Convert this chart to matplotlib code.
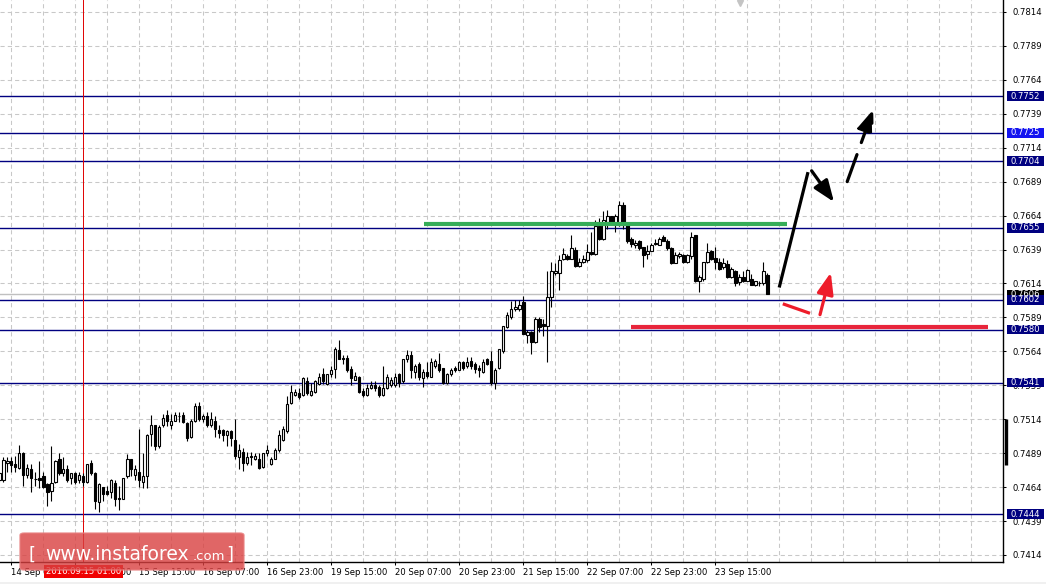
import matplotlib
matplotlib.use("Agg")
import matplotlib.pyplot as plt
import matplotlib.transforms as mtransforms
from matplotlib.patches import Rectangle, FancyBboxPatch
import numpy as np

# H1 candles, AUD/USD style chart, 193 bars
opens = [
    0.7469, 0.7469, 0.7482, 0.7483, 0.7481, 0.7478, 0.7489, 0.7473, 0.7477, 0.7470,
    0.7471, 0.7472, 0.7466, 0.7461, 0.7468, 0.7485, 0.7474, 0.7477, 0.7471, 0.7474,
    0.7469, 0.7472, 0.7468, 0.7482, 0.7474, 0.7453, 0.7464, 0.7461, 0.7460, 0.7467,
    0.7456, 0.7455, 0.7472, 0.7485, 0.7473, 0.7475, 0.7468, 0.7472, 0.7503, 0.7510,
    0.7494, 0.7510, 0.7517, 0.7510, 0.7513, 0.7516, 0.7517, 0.7511, 0.7501, 0.7513,
    0.7524, 0.7514, 0.7516, 0.7510, 0.7513, 0.7506, 0.7506, 0.7502, 0.7505, 0.7499,
    0.7486, 0.7490, 0.7482, 0.7487, 0.7485, 0.7485, 0.7479, 0.7489, 0.7481, 0.7485,
    0.7491, 0.7499, 0.7505, 0.7526, 0.7532, 0.7533, 0.7532, 0.7542, 0.7532, 0.7534,
    0.7540, 0.7547, 0.7540, 0.7547, 0.7551, 0.7565, 0.7559, 0.7559, 0.7551, 0.7543,
    0.7545, 0.7535, 0.7532, 0.7537, 0.7539, 0.7538, 0.7532, 0.7537, 0.7539, 0.7539,
    0.7547, 0.7542, 0.7558, 0.7561, 0.7549, 0.7555, 0.7544, 0.7549, 0.7545, 0.7553,
    0.7555, 0.7552, 0.7541, 0.7547, 0.7552, 0.7550, 0.7556, 0.7553, 0.7557, 0.7555,
    0.7552, 0.7549, 0.7558, 0.7557, 0.7541, 0.7552, 0.7564, 0.7582, 0.7589, 0.7595,
    0.7595, 0.7600, 0.7576, 0.7578, 0.7571, 0.7588, 0.7584, 0.7583, 0.7604, 0.7622,
    0.7622, 0.7632, 0.7634, 0.7632, 0.7639, 0.7627, 0.7630, 0.7631, 0.7637, 0.7636,
    0.7656, 0.7647, 0.7659, 0.7664, 0.7658, 0.7657, 0.7672, 0.7657, 0.7647, 0.7642,
    0.7645, 0.7641, 0.7636, 0.7638, 0.7644, 0.7642, 0.7648, 0.7645, 0.7640, 0.7629,
    0.7634, 0.7635, 0.7630, 0.7634, 0.7650, 0.7616, 0.7617, 0.7630, 0.7638, 0.7633,
    0.7630, 0.7626, 0.7628, 0.7619, 0.7623, 0.7615, 0.7619, 0.7616, 0.7617, 0.7613,
    0.7614, 0.7614, 0.7620,
]
highs = [
    0.7475, 0.7486, 0.7486, 0.7486, 0.7487, 0.7495, 0.7490, 0.7481, 0.7481, 0.7475,
    0.7483, 0.7475, 0.7467, 0.7494, 0.7484, 0.7489, 0.7486, 0.7480, 0.7474, 0.7475,
    0.7475, 0.7474, 0.7481, 0.7484, 0.7475, 0.7467, 0.7464, 0.7465, 0.7470, 0.7469,
    0.7465, 0.7471, 0.7488, 0.7485, 0.7480, 0.7507, 0.7489, 0.7503, 0.7517, 0.7510,
    0.7510, 0.7518, 0.7521, 0.7518, 0.7519, 0.7519, 0.7519, 0.7512, 0.7514, 0.7526,
    0.7527, 0.7518, 0.7519, 0.7519, 0.7516, 0.7510, 0.7507, 0.7506, 0.7506, 0.7514,
    0.7496, 0.7493, 0.7490, 0.7490, 0.7489, 0.7489, 0.7489, 0.7495, 0.7486, 0.7493,
    0.7506, 0.7509, 0.7531, 0.7539, 0.7536, 0.7537, 0.7545, 0.7545, 0.7541, 0.7543,
    0.7548, 0.7552, 0.7547, 0.7553, 0.7567, 0.7572, 0.7561, 0.7561, 0.7553, 0.7549,
    0.7546, 0.7537, 0.7540, 0.7542, 0.7542, 0.7539, 0.7553, 0.7547, 0.7545, 0.7548,
    0.7548, 0.7558, 0.7565, 0.7564, 0.7555, 0.7556, 0.7551, 0.7556, 0.7559, 0.7558,
    0.7563, 0.7552, 0.7548, 0.7552, 0.7553, 0.7557, 0.7557, 0.7560, 0.7560, 0.7556,
    0.7554, 0.7558, 0.7559, 0.7564, 0.7552, 0.7566, 0.7583, 0.7593, 0.7601, 0.7602,
    0.7602, 0.7605, 0.7580, 0.7579, 0.7589, 0.7589, 0.7588, 0.7623, 0.7630, 0.7629,
    0.7635, 0.7640, 0.7636, 0.7650, 0.7641, 0.7633, 0.7635, 0.7643, 0.7652, 0.7661,
    0.7662, 0.7667, 0.7668, 0.7664, 0.7665, 0.7675, 0.7674, 0.7657, 0.7648, 0.7646,
    0.7646, 0.7641, 0.7642, 0.7644, 0.7647, 0.7648, 0.7650, 0.7647, 0.7641, 0.7637,
    0.7637, 0.7636, 0.7636, 0.7652, 0.7650, 0.7620, 0.7630, 0.7644, 0.7639, 0.7641,
    0.7633, 0.7633, 0.7631, 0.7626, 0.7624, 0.7621, 0.7623, 0.7625, 0.7621, 0.7616,
    0.7616, 0.7630, 0.7622,
]
lows = [
    0.7468, 0.7468, 0.7475, 0.7475, 0.7475, 0.7477, 0.7465, 0.7471, 0.7460, 0.7465,
    0.7463, 0.7463, 0.7450, 0.7454, 0.7467, 0.7473, 0.7472, 0.7468, 0.7466, 0.7466,
    0.7467, 0.7465, 0.7467, 0.7473, 0.7448, 0.7446, 0.7454, 0.7458, 0.7456, 0.7450,
    0.7447, 0.7455, 0.7471, 0.7472, 0.7469, 0.7464, 0.7463, 0.7463, 0.7494, 0.7491,
    0.7493, 0.7508, 0.7509, 0.7507, 0.7513, 0.7512, 0.7511, 0.7498, 0.7500, 0.7512,
    0.7513, 0.7512, 0.7508, 0.7508, 0.7501, 0.7500, 0.7498, 0.7494, 0.7494, 0.7485,
    0.7477, 0.7476, 0.7480, 0.7480, 0.7484, 0.7477, 0.7478, 0.7487, 0.7480, 0.7485,
    0.7490, 0.7498, 0.7504, 0.7525, 0.7531, 0.7529, 0.7531, 0.7532, 0.7531, 0.7533,
    0.7539, 0.7540, 0.7539, 0.7545, 0.7544, 0.7558, 0.7555, 0.7549, 0.7539, 0.7543,
    0.7533, 0.7530, 0.7531, 0.7536, 0.7535, 0.7530, 0.7531, 0.7536, 0.7538, 0.7538,
    0.7538, 0.7541, 0.7556, 0.7544, 0.7544, 0.7543, 0.7538, 0.7544, 0.7545, 0.7552,
    0.7549, 0.7540, 0.7540, 0.7546, 0.7549, 0.7550, 0.7550, 0.7552, 0.7551, 0.7548,
    0.7545, 0.7548, 0.7554, 0.7539, 0.7536, 0.7551, 0.7563, 0.7581, 0.7588, 0.7594,
    0.7594, 0.7577, 0.7570, 0.7562, 0.7570, 0.7578, 0.7575, 0.7556, 0.7597, 0.7620,
    0.7609, 0.7631, 0.7631, 0.7632, 0.7626, 0.7626, 0.7629, 0.7630, 0.7635, 0.7635,
    0.7646, 0.7646, 0.7654, 0.7657, 0.7652, 0.7656, 0.7654, 0.7644, 0.7641, 0.7640,
    0.7639, 0.7626, 0.7632, 0.7638, 0.7642, 0.7642, 0.7645, 0.7639, 0.7628, 0.7629,
    0.7633, 0.7629, 0.7629, 0.7632, 0.7615, 0.7608, 0.7616, 0.7629, 0.7631, 0.7625,
    0.7624, 0.7625, 0.7618, 0.7618, 0.7612, 0.7613, 0.7615, 0.7616, 0.7613, 0.7612,
    0.7612, 0.7613, 0.7606,
]
closes = [
    0.7474, 0.7484, 0.7483, 0.7480, 0.7479, 0.7489, 0.7473, 0.7478, 0.7471, 0.7470,
    0.7469, 0.7464, 0.7460, 0.7467, 0.7483, 0.7474, 0.7477, 0.7469, 0.7474, 0.7468,
    0.7473, 0.7468, 0.7481, 0.7474, 0.7454, 0.7466, 0.7459, 0.7459, 0.7469, 0.7455,
    0.7455, 0.7471, 0.7485, 0.7477, 0.7477, 0.7469, 0.7472, 0.7502, 0.7510, 0.7494,
    0.7508, 0.7515, 0.7513, 0.7513, 0.7517, 0.7516, 0.7512, 0.7500, 0.7513, 0.7524,
    0.7514, 0.7516, 0.7510, 0.7514, 0.7507, 0.7504, 0.7502, 0.7505, 0.7500, 0.7487,
    0.7491, 0.7482, 0.7486, 0.7486, 0.7487, 0.7478, 0.7489, 0.7491, 0.7485, 0.7491,
    0.7502, 0.7507, 0.7525, 0.7534, 0.7534, 0.7530, 0.7544, 0.7533, 0.7535, 0.7542,
    0.7545, 0.7542, 0.7547, 0.7550, 0.7566, 0.7558, 0.7558, 0.7550, 0.7544, 0.7546,
    0.7534, 0.7532, 0.7537, 0.7539, 0.7537, 0.7532, 0.7537, 0.7545, 0.7543, 0.7545,
    0.7541, 0.7558, 0.7561, 0.7550, 0.7553, 0.7545, 0.7549, 0.7546, 0.7556, 0.7557,
    0.7550, 0.7541, 0.7547, 0.7550, 0.7550, 0.7556, 0.7552, 0.7556, 0.7553, 0.7551,
    0.7550, 0.7556, 0.7555, 0.7541, 0.7550, 0.7566, 0.7583, 0.7591, 0.7595, 0.7597,
    0.7598, 0.7577, 0.7578, 0.7571, 0.7588, 0.7582, 0.7583, 0.7604, 0.7623, 0.7623,
    0.7631, 0.7636, 0.7632, 0.7640, 0.7627, 0.7630, 0.7632, 0.7637, 0.7636, 0.7656,
    0.7647, 0.7661, 0.7664, 0.7658, 0.7664, 0.7672, 0.7657, 0.7645, 0.7643, 0.7644,
    0.7640, 0.7635, 0.7638, 0.7642, 0.7643, 0.7647, 0.7645, 0.7640, 0.7629, 0.7635,
    0.7636, 0.7630, 0.7635, 0.7648, 0.7616, 0.7619, 0.7630, 0.7637, 0.7632, 0.7630,
    0.7625, 0.7629, 0.7619, 0.7625, 0.7614, 0.7619, 0.7616, 0.7624, 0.7613, 0.7616,
    0.7614, 0.7623, 0.7606,
]

price_ticks = [0.7414, 0.7439, 0.7464, 0.7489, 0.7514, 0.7539, 0.7564, 0.7589, 0.7614,
               0.7639, 0.7664, 0.7689, 0.7714, 0.7739, 0.7764, 0.7789, 0.7814]
time_ticks = [3, 19, 35, 51, 67, 83, 99, 115, 131, 147, 163, 179]
time_labels = ["14 Sep 07:00", "14 Sep 23:00", "15 Sep 15:00", "16 Sep 07:00",
               "16 Sep 23:00", "19 Sep 15:00", "20 Sep 07:00", "20 Sep 23:00",
               "21 Sep 15:00", "22 Sep 07:00", "22 Sep 23:00", "23 Sep 15:00"]

levels = [0.7752, 0.7725, 0.7704, 0.7655, 0.7602, 0.7580, 0.7541, 0.7444]
level_box_colors = ["#000080", "#1414f0", "#000080", "#000080", "#000080", "#000080", "#000080", "#000080"]
last_price = 0.7606

green_line = (106.2, 197.0, 0.7658)   # x from, x to, price
red_line = (158.0, 247.2, 0.7582)

cursor_bar = 21
cursor_text = "2016.09.15 01:00"

# forecast arrows: (x, price) pairs
black_up = [(195.0, 0.7611), (202.2, 0.7696)]
black_pullback = [(203.1, 0.7697), (208.7, 0.7674)]
black_next = [(212.0, 0.7689), (218.5, 0.7742)]
red_dip = [(195.9, 0.7599), (202.7, 0.7592)]
red_up = [(205.2, 0.7591), (207.9, 0.7622)]

W, H = 1046, 584
fig = plt.figure(figsize=(W / 100, H / 100), dpi=100, facecolor="white")
ax = fig.add_axes([0, 22 / H, 1003 / W, 562 / H])
ax.set_xlim(0.2, 250.95)
ax.set_ylim(0.74088, 0.78228)

FS = 6.1
plt.rcParams["font.family"] = "DejaVu Sans"

# grid
for gx in np.arange(3, 251, 8):
    ax.axvline(gx, color="#c8c8c8", lw=0.75, ls=(0, (4, 3)), zorder=0)
for gy in price_ticks:
    ax.axhline(gy, color="#c8c8c8", lw=0.75, ls=(0, (4, 3)), zorder=0)

# levels
ax.axhline(last_price, color="#c0c0c0", lw=1.0, zorder=1)
for lv in levels:
    ax.axhline(lv, color="#000080", lw=1.0, zorder=1)

# crosshair
ax.axvline(cursor_bar, color="#e00000", lw=0.7, zorder=1)

# candles
o = np.array(opens)
c = np.array(closes)
x = np.arange(len(o))
ax.vlines(x, lows, highs, color="black", lw=0.8, zorder=3)
up = c >= o
ax.bar(x[up], (c - o)[up], bottom=o[up], width=0.65, color="white",
       edgecolor="black", linewidth=0.8, zorder=4)
ax.bar(x[~up], (o - c)[~up], bottom=c[~up], width=0.65, color="black",
       edgecolor="black", linewidth=0.8, zorder=4)

# support / resistance strokes
ax.plot(green_line[:2], [green_line[2]] * 2, color="#36ad58", lw=3, zorder=5,
        solid_capstyle="butt")
ax.plot(red_line[:2], [red_line[2]] * 2, color="#e8253b", lw=3, zorder=5,
        solid_capstyle="butt")

# forecast arrows
head = "-|>,head_length=0.65,head_width=0.25"
ax.plot(*zip(*black_up), color="black", lw=2.3, zorder=6, solid_capstyle="butt")
ax.annotate("", xy=black_pullback[1], xytext=black_pullback[0], zorder=6,
            arrowprops=dict(arrowstyle=head, color="black", lw=2.3,
                            mutation_scale=20, shrinkA=0, shrinkB=0))
ax.annotate("", xy=black_next[1], xytext=black_next[0], zorder=6,
            arrowprops=dict(arrowstyle=head, color="black", lw=2.3,
                            mutation_scale=20, linestyle=(0, (9, 4)),
                            shrinkA=0, shrinkB=0))
ax.plot(*zip(*red_dip), color="#ee1c2a", lw=2.3, zorder=6, solid_capstyle="butt")
ax.annotate("", xy=red_up[1], xytext=red_up[0], zorder=6,
            arrowprops=dict(arrowstyle=head, color="#ee1c2a", lw=2.3,
                            mutation_scale=20, shrinkA=0, shrinkB=0))

# axes look
for side in ["top", "left"]:
    ax.spines[side].set_visible(False)
for side in ["bottom", "right"]:
    ax.spines[side].set_color("black")
    ax.spines[side].set_linewidth(1.0)

ax.yaxis.tick_right()
ax.set_yticks(price_ticks)
ax.set_yticklabels(["%.4f" % p for p in price_ticks])
ax.tick_params(axis="y", length=2.5, width=0.75, pad=4.0, labelsize=FS, colors="black")
ax.set_xticks(time_ticks)
ax.set_xticklabels(time_labels)
ax.tick_params(axis="x", length=2.5, width=0.75, pad=1.5, labelsize=FS, colors="black")
for lbl in ax.get_xticklabels():
    lbl.set_ha("left")

# price boxes on the right scale
bt = mtransforms.blended_transform_factory(ax.transAxes, ax.transData)
half = 4.8 / 13575
box_l = 1007 / 1003
box_w = 37 / 1003
ax.add_patch(Rectangle((box_l, last_price - half), box_w, 2 * half, transform=bt,
                       fc="black", ec="none", clip_on=False, zorder=7))
ax.text(1010.5 / 1003, last_price, "%.4f" % last_price, transform=bt, color="white",
        fontsize=FS, va="center", ha="left", clip_on=False, zorder=8)
for lv, col in zip(levels, level_box_colors):
    ax.add_patch(Rectangle((box_l, lv - half), box_w, 2 * half, transform=bt,
                           fc=col, ec="none", clip_on=False, zorder=7))
    ax.text(1010.5 / 1003, lv, "%.4f" % lv, transform=bt, color="white",
            fontsize=FS, va="center", ha="left", clip_on=False, zorder=8)

# small bar on the price scale and the shift marker on top
ax.plot([1005.5 / 1003] * 2, [0.7480, 0.7514], transform=bt, color="black",
        lw=2.4, clip_on=False, zorder=7, solid_capstyle="butt")
ax.plot([185.2], [0.78228 - 3 / 13575], marker="v", ms=4.5, color="#c4c4c4",
        clip_on=False, zorder=7)

# crosshair time label
tx = mtransforms.blended_transform_factory(ax.transData, ax.transAxes)
ax.text(cursor_bar, -9.5 / 562, cursor_text, transform=tx, color="white",
        fontsize=FS, ha="center", va="center", clip_on=False, zorder=9,
        bbox=dict(boxstyle="square,pad=0.2", fc="#f00000", ec="none"))

# watermark
wm = FancyBboxPatch((20 / W, 14 / H), 224 / W, 37 / H,
                    boxstyle="round,pad=0,rounding_size=0.004",
                    transform=fig.transFigure, fc="#d94040", ec="#e88080",
                    lw=1.0, alpha=0.8, zorder=20)
fig.patches.append(wm)
base = (H - 560) / H
fig.text(28 / W, base, "[", color="white", fontsize=13, va="baseline", ha="left", zorder=21)
fig.text(45 / W, base, "www.instaforex", color="white", fontsize=13.5,
         va="baseline", ha="left", zorder=21)
fig.text(193 / W, base, ".com", color="white", fontsize=9.5, va="baseline",
         ha="left", zorder=21)
fig.text(226 / W, base, "]", color="white", fontsize=13, va="baseline", ha="left", zorder=21)

fig.patches.append(Rectangle((0, 0), 1, 2 / H, transform=fig.transFigure,
                             fc="#f0f0f0", ec="none", zorder=0))

fig.savefig("out.png", dpi=100, facecolor="white")
